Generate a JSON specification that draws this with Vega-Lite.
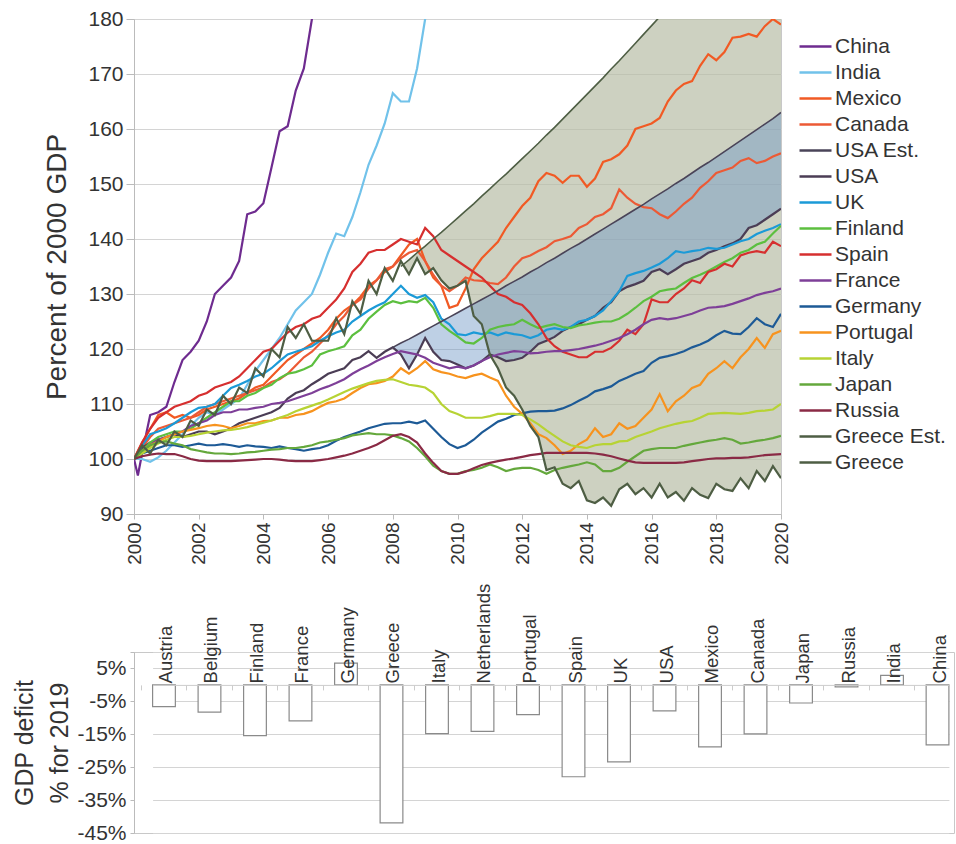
{
 "$schema": "https://vega.github.io/schema/vega-lite/v6.json",
 "padding": {"left": 12, "top": 7, "right": 0, "bottom": 0},
 "spacing": 17,
 "config": {
  "font": "Liberation Sans",
  "view": {"stroke": "#c8c8c8"},
  "axis": {"labelFont": "Liberation Sans", "titleFont": "Liberation Sans", "labelColor": "#333", "titleColor": "#333", "titleFontWeight": "normal", "gridColor": "#d4d4d4", "domainColor": "#bbb", "tickColor": "#bbb"}
 },
 "vconcat": [
  {
   "width": 647,
   "height": 495,
   "data": {"values": [
{"t":2000,"China":100,"India":100,"Mexico":100,"Canada":100,"USA":100,"UK":100,"Finland":100,"Spain":100,"France":100,"Germany":100,"Portugal":100,"Italy":100,"Japan":100,"Russia":100,"Greece":100},
{"t":2000.12,"China":97},
{"t":2000.25,"China":101,"India":100,"Mexico":103,"Canada":102,"USA":102,"UK":102.5,"Finland":101.5,"Spain":103,"France":101.5,"Germany":101,"Portugal":101.5,"Italy":101,"Japan":101.5,"Russia":100.5,"Greece":102.5},
{"t":2000.5,"China":108,"India":99.5,"Mexico":105.5,"Canada":104,"USA":103,"UK":104.5,"Finland":103,"Spain":105.5,"France":102.5,"Germany":101.5,"Portugal":102.5,"Italy":102,"Japan":102.5,"Russia":100.8,"Greece":101},
{"t":2000.75,"China":108.5,"India":100.3,"Mexico":108,"Canada":105.5,"USA":103.5,"UK":105,"Finland":104,"Spain":107.5,"France":103.5,"Germany":102,"Portugal":103.2,"Italy":102.8,"Japan":103,"Russia":101,"Greece":103.5},
{"t":2001,"China":109.5,"India":101.5,"Mexico":108.5,"Canada":106,"USA":104,"UK":105.6,"Finland":104.5,"Spain":108.5,"France":104,"Germany":102.5,"Portugal":104,"Italy":103.5,"Japan":103.2,"Russia":100.9,"Greece":102.5},
{"t":2001.25,"China":114,"India":103,"Mexico":107.5,"Canada":106.5,"USA":104.5,"UK":106.5,"Finland":105,"Spain":109.5,"France":104.5,"Germany":102.5,"Portugal":104.5,"Italy":104,"Japan":102.8,"Russia":100.9,"Greece":105},
{"t":2001.5,"China":118,"India":104.5,"Mexico":108,"Canada":107,"USA":104,"UK":107.5,"Finland":105,"Spain":110,"France":105,"Germany":102.2,"Portugal":105,"Italy":104,"Japan":102.5,"Russia":100.5,"Greece":104},
{"t":2001.75,"China":119.5,"India":106,"Mexico":107.5,"Canada":107.5,"USA":104.5,"UK":108.5,"Finland":105.5,"Spain":110.5,"France":106,"Germany":102.5,"Portugal":105.3,"Italy":104.2,"Japan":101.8,"Russia":100,"Greece":107},
{"t":2002,"China":121.5,"India":107.5,"Mexico":108,"Canada":108.5,"USA":105,"UK":109.3,"Finland":106.5,"Spain":111.5,"France":106.5,"Germany":102.8,"Portugal":105.6,"Italy":104.5,"Japan":101.5,"Russia":99.7,"Greece":106},
{"t":2002.25,"China":125,"India":108.5,"Mexico":109,"Canada":109.5,"USA":105,"UK":109.5,"Finland":107.5,"Spain":112,"France":107,"Germany":102.5,"Portugal":106,"Italy":104.8,"Japan":101.2,"Russia":99.6,"Greece":109},
{"t":2002.5,"China":130,"India":108,"Mexico":109.5,"Canada":110,"USA":104.5,"UK":110,"Finland":108.5,"Spain":113,"France":108,"Germany":102.5,"Portugal":106.2,"Italy":105,"Japan":101,"Russia":99.6,"Greece":108},
{"t":2002.75,"China":131.5,"India":109,"Mexico":110,"Canada":110.5,"USA":105,"UK":111.5,"Finland":109.5,"Spain":113.5,"France":108.5,"Germany":102.7,"Portugal":106,"Italy":105.2,"Japan":101,"Russia":99.6,"Greece":111.5},
{"t":2003,"China":133,"India":110,"Mexico":110.5,"Canada":111,"USA":105.6,"UK":112.9,"Finland":110.5,"Spain":114,"France":108.5,"Germany":102.5,"Portugal":105.6,"Italy":105.3,"Japan":100.9,"Russia":99.6,"Greece":110},
{"t":2003.25,"China":136,"India":111,"Mexico":111,"Canada":111.5,"USA":106.5,"UK":113.5,"Finland":110.5,"Spain":115,"France":109,"Germany":102.2,"Portugal":106,"Italy":105.5,"Japan":101,"Russia":99.7,"Greece":113},
{"t":2003.5,"China":144.5,"India":113.5,"Mexico":112,"Canada":112,"USA":107,"UK":114.2,"Finland":111.5,"Spain":116.5,"France":109,"Germany":102.5,"Portugal":106.5,"Italy":105.8,"Japan":101.2,"Russia":99.8,"Greece":112},
{"t":2003.75,"China":145,"India":116,"Mexico":113,"Canada":112.5,"USA":107.5,"UK":115,"Finland":112,"Spain":118,"France":109.3,"Germany":102.3,"Portugal":106.5,"Italy":106.2,"Japan":101.3,"Russia":99.9,"Greece":116.5},
{"t":2004,"China":146.5,"India":118,"Mexico":113.5,"Canada":113,"USA":108,"UK":115.5,"Finland":112.9,"Spain":119.5,"France":109.5,"Germany":102.2,"Portugal":106.9,"Italy":106.6,"Japan":101.5,"Russia":100,"Greece":115},
{"t":2004.25,"China":153,"India":120,"Mexico":115,"Canada":114,"USA":108.5,"UK":116.5,"Finland":113.5,"Spain":120,"France":110,"Germany":102,"Portugal":107,"Italy":107,"Japan":101.7,"Russia":100,"Greece":120},
{"t":2004.5,"China":159.6,"India":122,"Mexico":116.5,"Canada":114.5,"USA":109.3,"UK":117.8,"Finland":114.7,"Spain":121.5,"France":110.2,"Germany":102.3,"Portugal":107.5,"Italy":107.5,"Japan":101.8,"Russia":99.9,"Greece":118.5},
{"t":2004.75,"China":160.5,"India":124.5,"Mexico":118,"Canada":115.5,"USA":111,"UK":119,"Finland":115.5,"Spain":123,"France":110.5,"Germany":102,"Portugal":107.5,"Italy":108,"Japan":102,"Russia":99.7,"Greece":124},
{"t":2005,"China":167,"India":127,"Mexico":119,"Canada":117,"USA":112,"UK":119.5,"Finland":115.8,"Spain":124,"France":111,"Germany":101.8,"Portugal":108,"Italy":108.7,"Japan":102,"Russia":99.6,"Greece":122},
{"t":2005.25,"China":171,"India":128.5,"Mexico":120,"Canada":118.5,"USA":112.5,"UK":120,"Finland":116.3,"Spain":124.5,"France":111.5,"Germany":101.5,"Portugal":108.2,"Italy":109.2,"Japan":102.2,"Russia":99.6,"Greece":124.5},
{"t":2005.5,"China":180,"India":130,"Mexico":121,"Canada":119.5,"USA":113.6,"UK":120.5,"Finland":117,"Spain":125.5,"France":112,"Germany":101.8,"Portugal":108.7,"Italy":109.7,"Japan":102.5,"Russia":99.6,"Greece":121.5},
{"t":2005.75,"China":187,"India":133.5,"Mexico":122,"Canada":121,"USA":114.5,"UK":121.5,"Finland":119,"Spain":126,"France":112.7,"Germany":102,"Portugal":109.5,"Italy":110.2,"Japan":103,"Russia":99.8,"Greece":121.5},
{"t":2006,"India":137.5,"Mexico":123.5,"Canada":122.5,"USA":115.5,"UK":122.3,"Finland":119.6,"Spain":127.5,"France":113.2,"Germany":102.5,"Portugal":110.2,"Italy":110.8,"Japan":103.2,"Russia":100,"Greece":121.5},
{"t":2006.25,"India":141,"Mexico":125.5,"Canada":124.5,"USA":116,"UK":123,"Finland":120,"Spain":129,"France":113.8,"Germany":103.3,"Portugal":110.5,"Italy":111.5,"Japan":103.5,"Russia":100.3,"Greece":125.6},
{"t":2006.5,"India":140.5,"Mexico":127,"Canada":126,"USA":116.5,"UK":123.5,"Finland":120.5,"Spain":131,"France":114.5,"Germany":104,"Portugal":111,"Italy":112.2,"Japan":103.8,"Russia":100.6,"Greece":122.7},
{"t":2006.75,"India":144,"Mexico":128,"Canada":128,"USA":118,"UK":125,"Finland":122.5,"Spain":134,"France":115.5,"Germany":104.5,"Portugal":112,"Italy":112.8,"Japan":104.3,"Russia":101,"Greece":128.7},
{"t":2007,"India":148.5,"Mexico":129.5,"Canada":129,"USA":118.5,"UK":126,"Finland":123.5,"Spain":135.5,"France":116.3,"Germany":105,"Portugal":112.9,"Italy":113.3,"Japan":104.5,"Russia":101.5,"Greece":126.4},
{"t":2007.25,"India":153.5,"Mexico":131.5,"Canada":131,"USA":119.6,"UK":127,"Finland":125.5,"Spain":137.5,"France":117,"Germany":105.6,"Portugal":113.6,"Italy":113.8,"Japan":104.7,"Russia":102,"Greece":132.4},
{"t":2007.5,"India":157,"Mexico":132.5,"Canada":132.5,"USA":118.4,"UK":127.8,"Finland":126.8,"Spain":138,"France":117.8,"Germany":106,"Portugal":113.8,"Italy":114.2,"Japan":104.5,"Russia":102.6,"Greece":130},
{"t":2007.75,"India":161,"Mexico":134,"Canada":134.5,"USA":119.5,"UK":128.5,"Finland":128,"Spain":138,"France":118.5,"Germany":106.4,"Portugal":114.2,"Italy":114.4,"Japan":104.5,"Russia":103.4,"Greece":134.7},
{"t":2008,"India":166.5,"Mexico":135,"Canada":135,"USA Est":120.3,"USA":120.3,"UK":130,"Finland":128.7,"Spain":139,"France":119.1,"Germany":106.5,"Portugal":115,"Italy":114.5,"Japan":104.3,"Russia":104.2,"Greece":132.4},
{"t":2008.25,"India":165,"Mexico":137,"Canada":136.5,"USA Est":121.1,"USA":119,"UK":131.5,"Finland":128.3,"Spain":140,"France":119.6,"Germany":106.5,"Portugal":116.5,"Italy":114,"Japan":103.8,"Russia":104.5,"Greece Est":135,"Greece":136},
{"t":2008.5,"India":165,"Mexico":139,"Canada":137.5,"USA Est":121.8,"USA":116.5,"UK":130,"Finland":128.7,"Spain":139.5,"France":119.3,"Germany":106.8,"Portugal":115.5,"Italy":113.5,"Japan":103.2,"Russia":104,"Greece Est":136.2,"Greece":133.6},
{"t":2008.75,"India":171,"Mexico":140,"Canada":138,"USA Est":122.6,"USA":119,"UK":129.3,"Finland":128.5,"Spain":139,"France":119,"Germany":106.5,"Portugal":116.5,"Italy":113.3,"Japan":102,"Russia":103,"Greece Est":137.5,"Greece":136.5},
{"t":2009,"India":180,"Mexico":136,"Canada":136,"USA Est":123.4,"USA":122,"UK":129.8,"Finland":129.3,"Spain":142,"France":118.4,"Germany":107,"Portugal":117.8,"Italy":113,"Japan":100.5,"Russia":101,"Greece Est":138.7,"Greece":133.6},
{"t":2009.25,"India":188,"Mexico":133,"Canada":133.5,"USA Est":124.2,"USA":119.5,"UK":128.5,"Finland":127.5,"Spain":140.5,"France":117.5,"Germany":105.5,"Portugal":116.3,"Italy":112,"Japan":98.8,"Russia":99.3,"Greece Est":140,"Greece":134.7},
{"t":2009.5,"Mexico":131.5,"Canada":131.5,"USA Est":125,"USA":118,"UK":125.5,"Finland":124.5,"Spain":138,"France":117,"Germany":104,"Portugal":115.8,"Italy":110,"Japan":97.8,"Russia":97.8,"Greece Est":141.2,"Greece":132.5},
{"t":2009.75,"Mexico":127.5,"Canada":130.5,"USA Est":125.8,"USA":117.8,"UK":124.5,"Finland":123.3,"Spain":137,"France":116.5,"Germany":102.7,"Portugal":115.5,"Italy":108.7,"Japan":97.3,"Russia":97.3,"Greece Est":142.5,"Greece":131},
{"t":2010,"Mexico":128,"Canada":131.5,"USA Est":126.6,"USA":117.2,"UK":122.7,"Finland":122.3,"Spain":136,"France":116.8,"Germany":102,"Portugal":115,"Italy":108.2,"Japan":97.3,"Russia":97.3,"Greece Est":143.8,"Greece":131.5},
{"t":2010.25,"Mexico":131,"Canada":133,"USA Est":127.4,"USA":116.5,"UK":122.5,"Finland":121.2,"Spain":135,"France":116.5,"Germany":102.5,"Portugal":114.7,"Italy":107.5,"Japan":97.8,"Russia":97.7,"Greece Est":145.1,"Greece":132.4},
{"t":2010.5,"Mexico":134.5,"Canada":132.5,"USA Est":128.2,"USA":117,"UK":123,"Finland":121,"Spain":134,"France":117,"Germany":103.5,"Portugal":115.2,"Italy":107.5,"Japan":98,"Russia":98.3,"Greece Est":146.4,"Greece":126},
{"t":2010.75,"Mexico":136.5,"Canada":132.4,"USA Est":129,"USA":117.8,"UK":122.7,"Finland":122,"Spain":133,"France":117.8,"Germany":104.8,"Portugal":115.5,"Italy":107.5,"Japan":98.4,"Russia":98.9,"Greece Est":147.8,"Greece":124.5},
{"t":2011,"Mexico":138,"Canada":132,"USA Est":129.8,"USA":119,"UK":123,"Finland":123.5,"Spain":131.5,"France":118.5,"Germany":105.8,"Portugal":114.8,"Italy":107.8,"Japan":99,"Russia":99.3,"Greece Est":149.1,"Greece":119},
{"t":2011.25,"Mexico":139.5,"Canada":131.8,"USA Est":130.6,"USA":118.5,"UK":122.5,"Finland":124,"Spain":130,"France":119,"Germany":106.8,"Portugal":114.2,"Italy":108.2,"Japan":98.5,"Russia":99.6,"Greece Est":150.5,"Greece":116.5},
{"t":2011.5,"Mexico":142,"Canada":133,"USA Est":131.5,"USA":117.8,"UK":123,"Finland":124.3,"Spain":129.5,"France":119.3,"Germany":107.3,"Portugal":111.5,"Italy":108.2,"Japan":97.8,"Russia":99.9,"Greece Est":151.8,"Greece":113},
{"t":2011.75,"Mexico":144,"Canada":135,"USA Est":132.3,"USA":118,"UK":122.7,"Finland":124.5,"Spain":128.5,"France":119.6,"Germany":108,"Portugal":109.5,"Italy":108.2,"Japan":98.2,"Russia":100.1,"Greece Est":153.2,"Greece":111.5},
{"t":2012,"Mexico":146,"Canada":136.5,"USA Est":133.1,"USA":118.4,"UK":122.5,"Finland":125.3,"Spain":128,"France":119.5,"Germany":108.3,"Portugal":108.2,"Italy":108,"Japan":98.4,"Russia":100.4,"Greece Est":154.6,"Greece":109},
{"t":2012.25,"Mexico":147.5,"Canada":137,"USA Est":134,"USA":119.5,"UK":122,"Finland":124.5,"Spain":126.5,"France":119.2,"Germany":108.6,"Portugal":106.5,"Italy":107.2,"Japan":98.4,"Russia":100.7,"Greece Est":156,"Greece":106},
{"t":2012.5,"Mexico":150.5,"Canada":137.8,"USA Est":134.8,"USA":120.9,"UK":122.5,"Finland":123.8,"Spain":124.5,"France":119.3,"Germany":108.7,"Portugal":104.5,"Italy":106.3,"Japan":98,"Russia":100.9,"Greece Est":157.4,"Greece":104},
{"t":2012.75,"Mexico":152,"Canada":138.5,"USA Est":135.7,"USA":121.5,"UK":123.5,"Finland":124.2,"Spain":122,"France":119.5,"Germany":108.7,"Portugal":103.8,"Italy":105.2,"Japan":97.3,"Russia":101.1,"Greece Est":158.9,"Greece":98},
{"t":2013,"Mexico":151.5,"Canada":139.6,"USA Est":136.5,"USA":122.2,"UK":123.8,"Finland":124.5,"Spain":120.5,"France":119.6,"Germany":108.8,"Portugal":102.5,"Italy":104.2,"Japan":98,"Russia":101.1,"Greece Est":160.3,"Greece":98.5},
{"t":2013.25,"Mexico":150.2,"Canada":140,"USA Est":137.4,"USA":123.3,"UK":123.5,"Finland":124,"Spain":119.5,"France":119.6,"Germany":109.2,"Portugal":100.9,"Italy":103.2,"Japan":98.4,"Russia":101.1,"Greece Est":161.8,"Greece":95.5},
{"t":2013.5,"Mexico":151.5,"Canada":140.5,"USA Est":138.3,"USA":124,"UK":124,"Finland":123.8,"Spain":119,"France":119.8,"Germany":109.8,"Portugal":101.5,"Italy":102.5,"Japan":98.7,"Russia":101.1,"Greece Est":163.3,"Greece":94.7},
{"t":2013.75,"Mexico":151.5,"Canada":142,"USA Est":139.1,"USA":124.5,"UK":125,"Finland":124.3,"Spain":118.5,"France":120,"Germany":110.6,"Portugal":102.7,"Italy":102.2,"Japan":99,"Russia":101.1,"Greece Est":164.8,"Greece":96},
{"t":2014,"Mexico":149.5,"Canada":142.7,"USA Est":140,"USA":125.3,"UK":125.3,"Finland":124.5,"Spain":118.5,"France":120.3,"Germany":111.3,"Portugal":103.5,"Italy":102,"Japan":99.4,"Russia":101.1,"Greece Est":166.3,"Greece":92.5},
{"t":2014.25,"Mexico":151,"Canada":144,"USA Est":140.9,"USA":126,"UK":126,"Finland":124.8,"Spain":119.5,"France":120.6,"Germany":112.3,"Portugal":105.6,"Italy":102.5,"Japan":99,"Russia":101,"Greece Est":167.8,"Greece":92},
{"t":2014.5,"Mexico":154,"Canada":144.5,"USA Est":141.8,"USA":127.5,"UK":127,"Finland":125,"Spain":119.5,"France":121,"Germany":112.7,"Portugal":104,"Italy":102.7,"Japan":97.8,"Russia":100.8,"Greece Est":169.3,"Greece":93},
{"t":2014.75,"Mexico":154.5,"Canada":145.6,"USA Est":142.7,"USA":128.5,"UK":128.7,"Finland":125,"Spain":120.2,"France":121.5,"Germany":113.2,"Portugal":104.5,"Italy":102.7,"Japan":97.8,"Russia":100.5,"Greece Est":170.9,"Greece":91.5},
{"t":2015,"Mexico":155.4,"Canada":149,"USA Est":143.6,"USA":130.5,"UK":130.5,"Finland":125.5,"Spain":121.5,"France":122,"Germany":114.2,"Portugal":106.5,"Italy":103.2,"Japan":98.4,"Russia":100.1,"Greece Est":172.4,"Greece":94.5},
{"t":2015.25,"Mexico":157,"Canada":147.5,"USA Est":144.5,"USA":131.3,"UK":133.3,"Finland":126.4,"Spain":123.5,"France":122.7,"Germany":114.8,"Portugal":105.5,"Italy":103.3,"Japan":99.5,"Russia":99.7,"Greece Est":174,"Greece":95.5},
{"t":2015.5,"Mexico":160,"Canada":146.4,"USA Est":145.4,"USA":131.8,"UK":133.8,"Finland":127.5,"Spain":122.7,"France":123.5,"Germany":115.5,"Portugal":106,"Italy":104,"Japan":100.5,"Russia":99.4,"Greece Est":175.6,"Greece":93.6},
{"t":2015.75,"Mexico":160.5,"Canada":145.8,"USA Est":146.3,"USA":132.4,"UK":134.2,"Finland":128.7,"Spain":124.5,"France":124.5,"Germany":116,"Portugal":107.5,"Italy":104.5,"Japan":101.5,"Russia":99.3,"Greece Est":177.2,"Greece":94.7},
{"t":2016,"Mexico":161,"Canada":145.6,"USA Est":147.3,"USA":134,"UK":134.8,"Finland":129.5,"Spain":129,"France":125.3,"Germany":117.5,"Portugal":109,"Italy":105,"Japan":101.8,"Russia":99.3,"Greece Est":178.8,"Greece":93},
{"t":2016.25,"Mexico":162,"Canada":144.5,"USA Est":148.2,"USA":134.5,"UK":135.5,"Finland":130.5,"Spain":128.5,"France":125.6,"Germany":118.4,"Portugal":111.8,"Italy":105.6,"Japan":102,"Russia":99.3,"Greece Est":180.4,"Greece":95.5},
{"t":2016.5,"Mexico":165,"Canada":143.8,"USA Est":149.1,"USA":133.6,"UK":136.5,"Finland":130.8,"Spain":128.5,"France":125.4,"Germany":118.7,"Portugal":108.7,"Italy":106,"Japan":102,"Russia":99.3,"Greece Est":182.1,"Greece":93},
{"t":2016.75,"Mexico":167,"Canada":145,"USA Est":150.1,"USA":134.5,"UK":137.8,"Finland":131,"Spain":130,"France":125.6,"Germany":119.1,"Portugal":110.5,"Italy":106.4,"Japan":102,"Russia":99.3,"Greece Est":183.7,"Greece":94},
{"t":2017,"Mexico":168.2,"Canada":146.4,"USA Est":151,"USA":135.5,"UK":137.5,"Finland":132,"Spain":131,"France":126,"Germany":119.6,"Portugal":111.5,"Italy":106.7,"Japan":102.4,"Russia":99.4,"Greece Est":185.4,"Greece":92.4},
{"t":2017.25,"Mexico":168.7,"Canada":147.5,"USA Est":152,"USA":136,"UK":137.8,"Finland":132.9,"Spain":132.5,"France":126.4,"Germany":120.3,"Portugal":112.9,"Italy":106.9,"Japan":102.7,"Russia":99.6,"Greece Est":187.1,"Greece":94.7},
{"t":2017.5,"Mexico":171.5,"Canada":149.3,"USA Est":153,"USA":136.5,"UK":138,"Finland":133.5,"Spain":132,"France":127,"Germany":120.8,"Portugal":113.5,"Italy":107.5,"Japan":103,"Russia":99.8,"Greece Est":188.8,"Greece":93.5},
{"t":2017.75,"Mexico":173.6,"Canada":150.5,"USA Est":153.9,"USA":137.5,"UK":138.4,"Finland":134.2,"Spain":134,"France":127.5,"Germany":121.5,"Portugal":115.5,"Italy":108.2,"Japan":103.3,"Russia":100,"Greece Est":190.5,"Greece":92.9},
{"t":2018,"Mexico":172.5,"Canada":152,"USA Est":154.9,"USA":138,"UK":138.2,"Finland":135,"Spain":134.5,"France":127.6,"Germany":122.5,"Portugal":116.5,"Italy":108.3,"Japan":103.5,"Russia":100.1,"Greece Est":192.3,"Greece":95.5},
{"t":2018.25,"Mexico":174,"Canada":152.5,"USA Est":155.9,"USA":138.7,"UK":138.4,"Finland":135.8,"Spain":135.5,"France":127.8,"Germany":123.3,"Portugal":117.8,"Italy":108.4,"Japan":103.8,"Russia":100.1,"Greece Est":194,"Greece":94.5},
{"t":2018.5,"Mexico":176.6,"Canada":153,"USA Est":156.9,"USA":139.2,"UK":139,"Finland":136.5,"Spain":135,"France":128.2,"Germany":122.8,"Portugal":116.5,"Italy":108.3,"Japan":103.5,"Russia":100.2,"Greece Est":195.8,"Greece":94.2},
{"t":2018.75,"Mexico":176.8,"Canada":154.2,"USA Est":157.9,"USA":140,"UK":139.6,"Finland":137.5,"Spain":137,"France":128.7,"Germany":122.7,"Portugal":118.5,"Italy":108.2,"Japan":102.8,"Russia":100.2,"Greece Est":197.6,"Greece":96.5},
{"t":2019,"Mexico":177.3,"Canada":154.7,"USA Est":158.9,"USA":142,"UK":140,"Finland":138,"Spain":137.5,"France":129.2,"Germany":124,"Portugal":120,"Italy":108.4,"Japan":103,"Russia":100.3,"Greece Est":199.4,"Greece":94.7},
{"t":2019.25,"Mexico":176.8,"Canada":153.8,"USA Est":159.9,"USA":142.5,"UK":140.9,"Finland":139,"Spain":137.8,"France":129.8,"Germany":125.6,"Portugal":122,"Italy":108.7,"Japan":103.3,"Russia":100.5,"Greece Est":201.2,"Greece":97.8},
{"t":2019.5,"Mexico":178.7,"Canada":154.2,"USA Est":160.9,"USA":143.5,"UK":141.5,"Finland":139.5,"Spain":137.5,"France":130.2,"Germany":124.5,"Portugal":120.2,"Italy":108.8,"Japan":103.5,"Russia":100.7,"Greece Est":203,"Greece":96},
{"t":2019.75,"Mexico":180,"Canada":155,"USA Est":161.9,"USA":144.5,"UK":142,"Finland":141,"Spain":139.5,"France":130.5,"Germany":124,"Portugal":122.7,"Italy":109,"Japan":103.8,"Russia":100.8,"Greece Est":204.9,"Greece":98.7},
{"t":2020,"Mexico":179,"Canada":155.6,"USA Est":163,"USA":145.5,"UK":142.7,"Finland":142.4,"Spain":138.7,"France":131,"Germany":126.4,"Portugal":123.3,"Italy":110,"Japan":104.2,"Russia":100.9,"Greece Est":206.8,"Greece":96.5}
   ]},
   "layer": [
    {
     "transform": [{"filter": "isValid(datum['Greece Est'])"}],
     "mark": {"type": "area", "color": "#b8bea6", "opacity": 0.7, "clip": true},
     "encoding": {
      "x": {"field": "t", "type": "quantitative", "title": null, "scale": {"domain": [2000, 2020], "nice": false, "zero": false},
            "axis": {"values": [2000,2002,2004,2006,2008,2010,2012,2014,2016,2018,2020], "format": "d", "labelAngle": -90, "labelFontSize": 19, "grid": false, "tickSize": 5, "labelPadding": 3}},
      "y": {"field": "Greece Est", "type": "quantitative", "title": "Percent of 2000 GDP", "scale": {"domain": [90, 180], "nice": false, "zero": false},
            "axis": {"values": [90,100,110,120,130,140,150,160,170,180], "labelFontSize": 21, "titleFontSize": 28, "titlePadding": 16, "tickSize": 8, "labelPadding": 3, "grid": true}},
      "y2": {"field": "Greece"}
     }
    },
    {
     "transform": [{"filter": "isValid(datum['USA Est'])"}],
     "mark": {"type": "area", "color": "#6f97c6", "opacity": 0.45, "clip": true},
     "encoding": {
      "x": {"field": "t", "type": "quantitative", "title": null, "scale": {"domain": [2000, 2020], "nice": false, "zero": false}},
      "y": {"field": "USA Est", "type": "quantitative", "title": "Percent of 2000 GDP", "scale": {"domain": [90, 180], "nice": false, "zero": false}},
      "y2": {"field": "USA"}
     }
    },
    {
     "transform": [
      {"fold": ["China","India","Mexico","Canada","USA Est","USA","UK","Finland","Spain","France","Germany","Portugal","Italy","Japan","Russia","Greece Est","Greece"], "as": ["c", "v"]},
      {"filter": "isValid(datum.v)"}
     ],
     "mark": {"type": "line", "clip": true},
     "encoding": {
      "x": {"field": "t", "type": "quantitative", "title": null, "scale": {"domain": [2000, 2020], "nice": false, "zero": false}},
      "y": {"field": "v", "type": "quantitative", "title": "Percent of 2000 GDP", "scale": {"domain": [90, 180], "nice": false, "zero": false}},
      "color": {"field": "c", "type": "nominal",
       "scale": {"domain": ["China","India","Mexico","Canada","USA Est","USA","UK","Finland","Spain","France","Germany","Portugal","Italy","Japan","Russia","Greece Est","Greece"],
                 "range": ["#6e2b8f","#71c2ea","#f15a24","#ec5a35","#4a4458","#4b3d55","#1b9ad7","#5cbf3f","#d62f2f","#7e3f98","#1d5a96","#f7931e","#b7d334","#64a83c","#8a2a45","#4e5e44","#4e5e44"]},
       "legend": {"title": null, "orient": "none", "legendX": 670, "legendY": 16, "padding": 0, "labelFontSize": 21, "labelColor": "#333", "labelFont": "Liberation Sans", "symbolType": "M-1.6,0H1.6", "symbolSize": 400, "symbolStrokeWidth": 2.5, "labelOffset": 8, "rowPadding": 4, "labelLimit": 300,
                  "labelExpr": "datum.label == 'USA Est' ? 'USA Est.' : datum.label == 'Greece Est' ? 'Greece Est.' : datum.label"}},
      "strokeWidth": {"condition": {"test": "datum.c == 'USA Est' || datum.c == 'Greece Est'", "value": 1.6}, "value": 2.2}
     }
    }
   ]
  },
  {
   "width": 820,
   "height": 181,
   "data": {"values": [
    {"country": "Austria", "deficit": -6.6},
    {"country": "Belgium", "deficit": -8.3},
    {"country": "Finland", "deficit": -15.4},
    {"country": "France", "deficit": -10.9},
    {"country": "Germany", "deficit": 6.6},
    {"country": "Greece", "deficit": -41.9},
    {"country": "Italy", "deficit": -14.8},
    {"country": "Netherlands", "deficit": -14.1},
    {"country": "Portugal", "deficit": -9.0},
    {"country": "Spain", "deficit": -27.9},
    {"country": "UK", "deficit": -23.4},
    {"country": "USA", "deficit": -7.9},
    {"country": "Mexico", "deficit": -18.8},
    {"country": "Canada", "deficit": -14.9},
    {"country": "Japan", "deficit": -5.5},
    {"country": "Russia", "deficit": -0.6},
    {"country": "India", "deficit": 2.9},
    {"country": "China", "deficit": -18.2}
   ]},
   "mark": {"type": "bar", "fill": "white", "stroke": "#8a8a8a", "strokeWidth": 1.2},
   "encoding": {
    "x": {"field": "country", "type": "nominal", "sort": null, "title": null,
          "scale": {"paddingInner": 0.5, "paddingOuter": 0, "range": [18.6, 814.9]},
          "axis": {"orient": "top", "offset": -32.9, "zindex": 1, "labelAngle": -90, "labelFontSize": 18.5, "labelPadding": 7, "labelOverlap": false, "tickSize": -5, "bandPosition": -0.5, "labelOffset": 2, "domainColor": "#ccc", "tickColor": "#ccc", "grid": false}},
    "y": {"field": "deficit", "type": "quantitative", "scale": {"domain": [-45, 10], "nice": false},
          "axis": {"title": ["GDP deficit", "% for 2019"], "titleFontSize": 25, "titleLineHeight": 35, "titlePadding": 4, "values": [10,5,-5,-15,-25,-35,-45], "labelExpr": "datum.value == 10 ? '' : datum.value + '%'", "labelFontSize": 21, "tickSize": 4, "labelPadding": 4, "grid": true}}
   }
  }
 ]
}
